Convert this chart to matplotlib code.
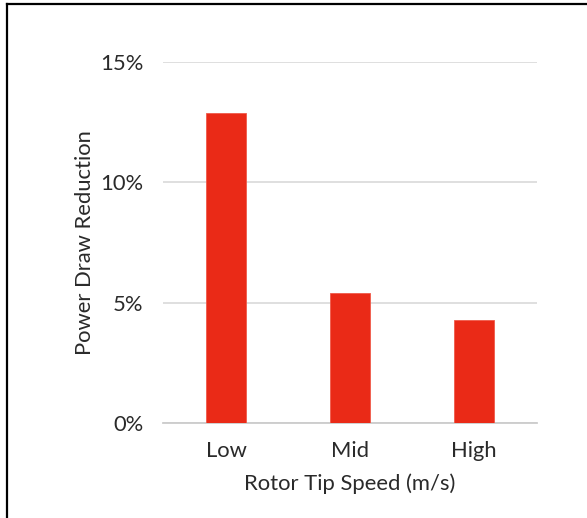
import matplotlib.pyplot as plt
from matplotlib.lines import Line2D

categories = ["Low", "Mid", "High"]
reduction = [12.9, 5.4, 4.3]
yticks = [0, 5, 10, 15]
ytick_labels = ["0%", "5%", "10%", "15%"]

plt.rcParams['font.family'] = ['Lato', 'DejaVu Sans']

fig = plt.figure(figsize=(5.87, 5.18), dpi=100)
ax = fig.add_axes([0.2777, 0.1834, 0.637, 0.6969])

x = range(len(categories))
ax.bar(x, reduction, width=0.32, color="#EA2A17", edgecolor="#F05A4A", linewidth=0.6, zorder=3)

ax.set_xlim(-0.51, 2.51)
ax.set_ylim(0, 15)
ax.set_yticks(yticks)
ax.set_yticklabels(ytick_labels)
ax.set_xticks(list(x))
ax.set_xticklabels(categories)

ax.yaxis.grid(True, color="#dcdcdc", linewidth=1.3, zorder=0)
for s in ["top", "right", "left"]:
    ax.spines[s].set_visible(False)
ax.spines["bottom"].set_color("#cccccc")
ax.spines["bottom"].set_linewidth(1.3)
ax.tick_params(axis="both", length=0, labelsize=15.8, colors="#2a2a2a")
ax.tick_params(axis="y", pad=14)
ax.tick_params(axis="x", pad=13)

ax.set_xlabel("Rotor Tip Speed (m/s)", fontsize=15.8, color="#2a2a2a", labelpad=9)
ax.set_ylabel("Power Draw Reduction", fontsize=15.8, color="#2a2a2a", labelpad=4)

# outer frame (top and left edges)
fig.add_artist(Line2D([7 / 587, 1], [1 - 4 / 518, 1 - 4 / 518], transform=fig.transFigure, color="black", linewidth=1.6))
fig.add_artist(Line2D([7 / 587, 7 / 587], [0, 1 - 4 / 518], transform=fig.transFigure, color="black", linewidth=1.6))

fig.savefig("out.png", dpi=100)
